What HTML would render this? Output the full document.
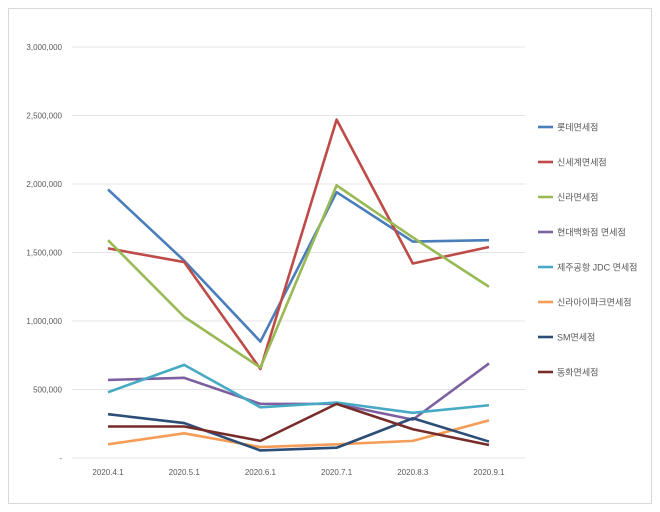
<!DOCTYPE html>
<html><head><meta charset="utf-8"><style>
html,body{margin:0;padding:0;background:#fff;}
svg{display:block;font-family:"Liberation Sans","Noto Sans CJK KR",sans-serif;}
</style></head><body>
<svg id="chart" width="660" height="512">
<rect x="8.5" y="8.5" width="643" height="495" fill="#fff" stroke="#d9d9d9"/>
<g id="grid"></g><g id="series"></g><g id="legend"></g>
</svg>
<script>
const categories=["2020.4.1","2020.5.1","2020.6.1","2020.7.1","2020.8.3","2020.9.1"];
const yTicks=[0,500000,1000000,1500000,2000000,2500000,3000000];
const yTickLabels=["-","500,000","1,000,000","1,500,000","2,000,000","2,500,000","3,000,000"];
const seriesNames=["롯데면세점","신세계면세점","신라면세점","현대백화점 면세점","제주공항 JDC 면세점","신라아이파크면세점","SM면세점","동화면세점"];
const lotte=[1960000,1440000,850000,1940000,1580000,1590000];
const shinsegae=[1530000,1430000,650000,2470000,1420000,1540000];
const shilla=[1590000,1030000,660000,1990000,1610000,1250000];
const hyundai=[570000,585000,395000,395000,280000,690000];
const jeju=[480000,680000,370000,405000,330000,385000];
const ipark=[100000,180000,80000,100000,125000,275000];
const sm=[320000,255000,55000,75000,290000,120000];
const donghwa=[230000,230000,125000,395000,210000,95000];
const seriesValues=[lotte,shinsegae,shilla,hyundai,jeju,ipark,sm,donghwa];
const colors=["#4a7ebb","#be4b48","#98b954","#7d60a0","#46aac5","#f59d56","#2c4d75","#772c2a"];
const NS="http://www.w3.org/2000/svg";
const x0=108,dx=76.2,yBase=458,yTop=47,yMax=3000000;
function xs(i){return x0+i*dx;}
function ys(v){return yBase-(v/yMax)*(yBase-yTop);}
function mk(t,a,p){const e=document.createElementNS(NS,t);for(const k in a)e.setAttribute(k,a[k]);p.appendChild(e);return e;}
const grid=document.getElementById('grid');
yTicks.forEach((v,i)=>{
  const l=mk('line',{x1:72,x2:525,y1:ys(v),y2:ys(v),stroke:'#e4e4e4','stroke-width':1},grid);
  
  
  const t=mk('text',{x:62,y:ys(v)+3,'text-anchor':'end','font-size':8,fill:'#595959'},grid);
  t.textContent=yTickLabels[i];
  
  
});
categories.forEach((c,i)=>{
  const t=mk('text',{x:xs(i),y:475,'text-anchor':'middle','font-size':8,fill:'#595959'},grid);
  t.textContent=c;
  
  
});
const sg=document.getElementById('series'),lg=document.getElementById('legend');
seriesValues.forEach((vals,s)=>{
  const p=mk('polyline',{points:vals.map((v,i)=>xs(i)+','+ys(v)).join(' '),fill:'none',stroke:colors[s],'stroke-width':2.6,'stroke-linejoin':'round'},sg);
  
  
  const y=127+s*35;
  const l=mk('line',{x1:538,x2:553,y1:y,y2:y,stroke:colors[s],'stroke-width':2.6},lg);
  
  
  const t=mk('text',{x:557,y:y+3.5,'font-size':9,fill:'#595959'},lg);
  t.textContent=seriesNames[s];
  
  
});
</script>
</body></html>
